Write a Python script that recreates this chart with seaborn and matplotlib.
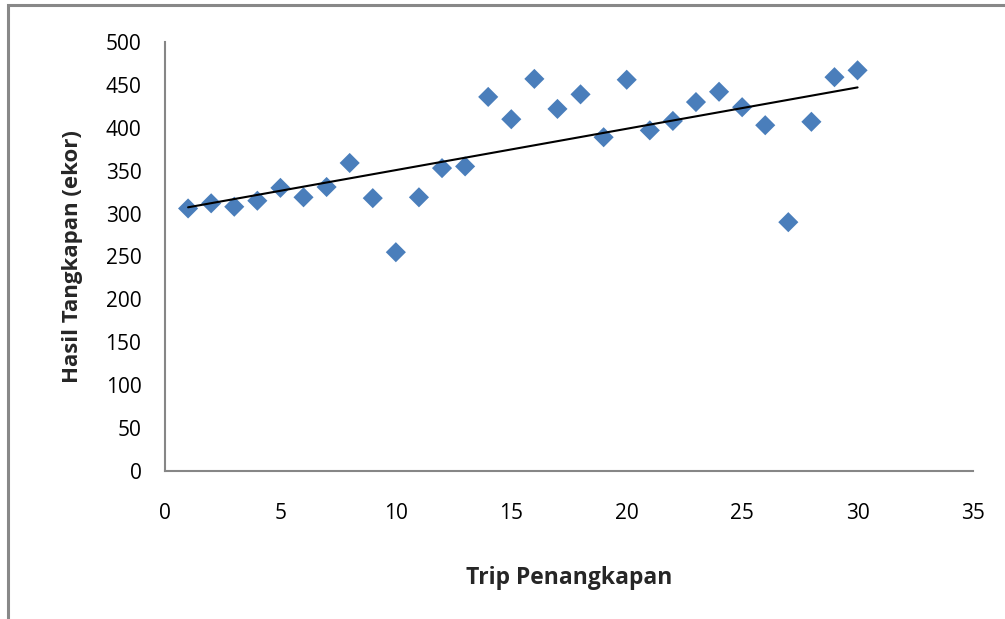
import numpy as np
import pandas as pd
import matplotlib
matplotlib.use("Agg")
import matplotlib.pyplot as plt
from matplotlib.patches import Rectangle
import seaborn as sns

# Catch per fishing trip
trips = list(range(1, 31))
catch = [306, 312, 308, 315, 330, 319, 331, 359, 318, 255,
         319, 353, 355, 436, 410, 457, 422, 439, 389, 456,
         397, 408, 430, 442, 424, 403, 290, 407, 459, 467]

x_ticks = [0, 5, 10, 15, 20, 25, 30, 35]
y_ticks = [0, 50, 100, 150, 200, 250, 300, 350, 400, 450, 500]

df = pd.DataFrame({"trip": trips, "catch": catch})

sns.set_theme(style="white")
plt.rcParams["font.family"] = ["Open Sans", "DejaVu Sans"]

fig = plt.figure(figsize=(10.05, 6.19), dpi=100)
ax = fig.add_axes([165 / 1005, 1 - 471 / 619, (973 - 165) / 1005, (471 - 42) / 619])

sns.scatterplot(data=df, x="trip", y="catch", marker="D", s=105,
                color="#4A7EBB", edgecolor="none", ax=ax, zorder=3)
sns.regplot(data=df, x="trip", y="catch", scatter=False, ci=None,
            color="black", line_kws={"linewidth": 1.5, "zorder": 4}, ax=ax)

ax.set_xlim(0, 35)
ax.set_ylim(0, 500)
ax.set_xticks(x_ticks)
ax.set_yticks(y_ticks)
ax.tick_params(axis="both", labelsize=15, colors="#000000", length=5,
               width=1.2, direction="out", color="#868686")
ax.tick_params(axis="y", pad=12)
ax.tick_params(axis="x", pad=18)

for side in ["top", "right"]:
    ax.spines[side].set_visible(False)
for side in ["left", "bottom"]:
    ax.spines[side].set_color("#868686")
    ax.spines[side].set_linewidth(1.5)

ax.set_xlabel("Trip Penangkapan", fontsize=16.5, fontweight="bold", labelpad=30)
ax.set_ylabel("Hasil Tangkapan (ekor)", fontsize=16, fontweight="bold", labelpad=16)

# Chart frame
fig.patches.append(Rectangle((8 / 1005, -0.1), 1.2, 1.1 - 5 / 619,
                             transform=fig.transFigure, fill=False,
                             edgecolor="#888888", linewidth=2.2, zorder=0))

fig.savefig("out.png", dpi=100)
